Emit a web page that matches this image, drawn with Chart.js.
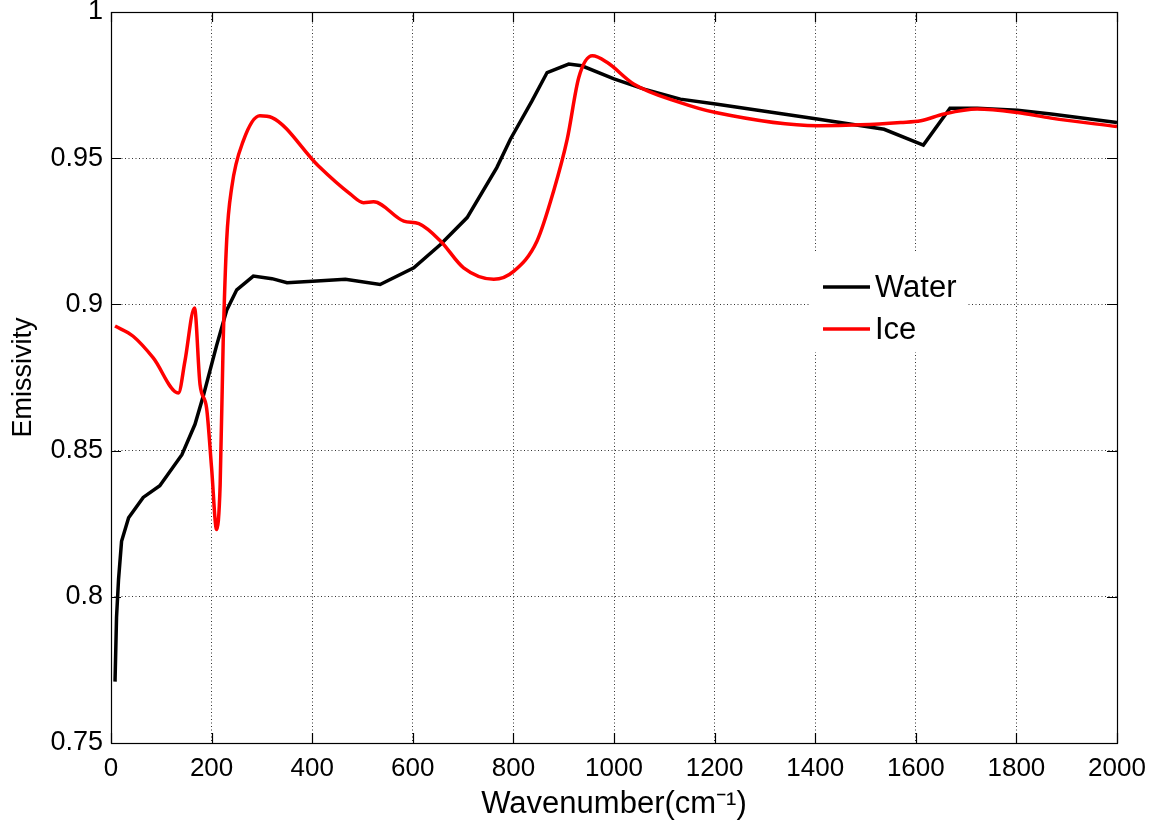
<!DOCTYPE html>
<html>
<head>
<meta charset="utf-8">
<script src="https://cdn.jsdelivr.net/npm/chart.js@4.4.1/dist/chart.umd.min.js"></script>
<style>
html,body{margin:0;padding:0;background:#fff;}
#c{display:block;}
</style>
</head>
<body>
<canvas id="c" width="1150" height="829"></canvas>
<script>
// ---- data ----
const seriesNames = ["Water", "Ice"];

const waterX = [8, 11, 15, 21, 35, 64, 97, 141, 167, 184, 210, 230, 250, 283, 320, 350, 409, 466, 535, 602, 655, 708, 767, 794, 837, 867, 910, 936, 1000, 1060, 1132, 1202, 1404, 1537, 1615, 1668, 1722, 1802, 1869, 2000];
const waterY = [0.771, 0.793, 0.806, 0.819, 0.827, 0.834, 0.838, 0.8486, 0.859, 0.869, 0.886, 0.898, 0.905, 0.9097, 0.9088, 0.9074, 0.908, 0.9086, 0.9068, 0.9125, 0.9205, 0.9297, 0.9468, 0.9565, 0.9696, 0.9793, 0.9822, 0.9816, 0.9771, 0.9736, 0.9702, 0.9685, 0.9634, 0.9599, 0.9545, 0.9671, 0.9671, 0.9664, 0.9651, 0.9622];

const iceX = [8, 44, 84, 134, 147, 166, 177, 190, 200, 210, 217, 223, 230, 240, 263, 296, 320, 412, 476, 502, 522, 582, 612, 655, 701, 761, 801, 847, 880, 907, 930, 957, 986, 1039, 1132, 1202, 1404, 1490, 1570, 1610, 1656, 1722, 1802, 1869, 2000];
const iceY = [0.8926, 0.8891, 0.8817, 0.8697, 0.8806, 0.8988, 0.8726, 0.8646, 0.844, 0.823, 0.8383, 0.887, 0.922, 0.94, 0.9559, 0.9645, 0.9639, 0.9474, 0.9377, 0.9348, 0.9351, 0.9285, 0.9276, 0.9217, 0.9125, 0.9086, 0.9114, 0.9217, 0.9388, 0.9565, 0.9776, 0.985, 0.9828, 0.9754, 0.969, 0.9656, 0.9611, 0.9614, 0.9622, 0.9628, 0.9651, 0.9668, 0.9656, 0.9637, 0.9608];

const xTickValues = [0, 200, 400, 600, 800, 1000, 1200, 1400, 1600, 1800, 2000];
const xTickLabels = ["0", "200", "400", "600", "800", "1000", "1200", "1400", "1600", "1800", "2000"];
const yTickValues = [0.75, 0.8, 0.85, 0.9, 0.95, 1];
const yTickLabels = ["0.75", "0.8", "0.85", "0.9", "0.95", "1"];

const xTitle = "Wavenumber(cm\u207B\u00B9)";
const yTitle = "Emissivity";

// ---- build chart ----
const FONT = "'Liberation Sans', Arial, Helvetica, sans-serif";

const toPts = (xs, ys) => xs.map((x, i) => ({x: x, y: ys[i]}));

const frameAndTicks = {
  id: 'frameAndTicks',
  afterDatasetsDraw(chart) {
    const {ctx, chartArea: a, scales} = chart;
    const L = 10;
    ctx.save();
    ctx.strokeStyle = '#000';
    ctx.lineWidth = 1.2;
    ctx.beginPath();
    xTickValues.forEach(v => {
      const px = Math.round(scales.x.getPixelForValue(v)) + 0.5;
      ctx.moveTo(px, a.bottom); ctx.lineTo(px, a.bottom - L);
      ctx.moveTo(px, a.top); ctx.lineTo(px, a.top + L);
    });
    yTickValues.forEach(v => {
      const py = Math.round(scales.y.getPixelForValue(v)) + 0.5;
      ctx.moveTo(a.left, py); ctx.lineTo(a.left + L, py);
      ctx.moveTo(a.right, py); ctx.lineTo(a.right - L, py);
    });
    ctx.stroke();
    ctx.strokeRect(Math.round(a.left) + 0.5, Math.round(a.top) + 0.5,
                   Math.round(a.right - a.left), Math.round(a.bottom - a.top));
    ctx.restore();
  }
};

const innerLegend = {
  id: 'innerLegend',
  afterDatasetsDraw(chart) {
    const {ctx, chartArea: a} = chart;
    const bx = a.left + 699, by = a.top + 240, bw = 157, bh = 100;
    ctx.save();
    ctx.fillStyle = '#fff';
    ctx.fillRect(bx, by, bw, bh);
    ctx.font = '31px ' + FONT;
    ctx.textBaseline = 'middle';
    ctx.textAlign = 'left';
    chart.data.datasets.slice().sort((p, q) => seriesNames.indexOf(p.label) - seriesNames.indexOf(q.label)).forEach((ds, i) => {
      const y = by + 35 + i * 42;
      ctx.strokeStyle = ds.borderColor;
      ctx.lineWidth = 3.5;
      ctx.beginPath();
      ctx.moveTo(bx + 13, y); ctx.lineTo(bx + 60, y);
      ctx.stroke();
      ctx.fillStyle = '#000';
      ctx.fillText(ds.label, bx + 65, y + 1);
    });
    ctx.restore();
  }
};

new Chart(document.getElementById('c'), {
  type: 'scatter',
  data: {
    datasets: [
      {label: seriesNames[1], data: toPts(iceX, iceY), showLine: true, borderColor: '#ff0000', backgroundColor: '#ff0000', borderWidth: 3.5, pointRadius: 0, cubicInterpolationMode: 'monotone', order: 0},
      {label: seriesNames[0], data: toPts(waterX, waterY), showLine: true, borderColor: '#000000', backgroundColor: '#000000', borderWidth: 3.5, pointRadius: 0, tension: 0, order: 1}
    ]
  },
  options: {
    responsive: false,
    animation: false,
    devicePixelRatio: 1,
    layout: {padding: {top: 12, right: 33, left: 0, bottom: 0}},
    plugins: {legend: {display: false}, tooltip: {enabled: false}},
    scales: {
      x: {
        type: 'linear', min: 0, max: 2000,
        afterBuildTicks(s) { s.ticks = xTickValues.map(v => ({value: v})); },
        afterFit(s) { s.height = 86; s.paddingLeft = 0; s.paddingRight = 0; },
        ticks: {
          color: '#000', padding: 10, maxRotation: 0, autoSkip: false,
          font: {family: FONT, size: 26},
          callback: (v) => { const i = xTickValues.indexOf(v); return i >= 0 ? xTickLabels[i] : ''; }
        },
        grid: {color: '#333', lineWidth: 1, drawTicks: false},
        border: {display: false, dash: [1, 2.5]},
        title: {display: true, text: xTitle, color: '#000', font: {family: FONT, size: 31}, padding: {top: 0, bottom: 6}}
      },
      y: {
        type: 'linear', min: 0.75, max: 1,
        afterBuildTicks(s) { s.ticks = yTickValues.map(v => ({value: v})); },
        afterFit(s) { s.width = 111; s.paddingTop = 0; s.paddingBottom = 0; },
        ticks: {
          color: '#000', padding: 8, autoSkip: false,
          font: {family: FONT, size: 27},
          callback: (v) => { const i = yTickValues.findIndex(t => Math.abs(t - v) < 1e-9); return i >= 0 ? yTickLabels[i] : ''; }
        },
        grid: {color: '#333', lineWidth: 1, drawTicks: false},
        border: {display: false, dash: [1, 2.5]},
        title: {display: true, text: yTitle, color: '#000', font: {family: FONT, size: 27}, padding: {top: 7, bottom: 0}}
      }
    }
  },
  plugins: [frameAndTicks, innerLegend]
});
</script>
</body>
</html>
